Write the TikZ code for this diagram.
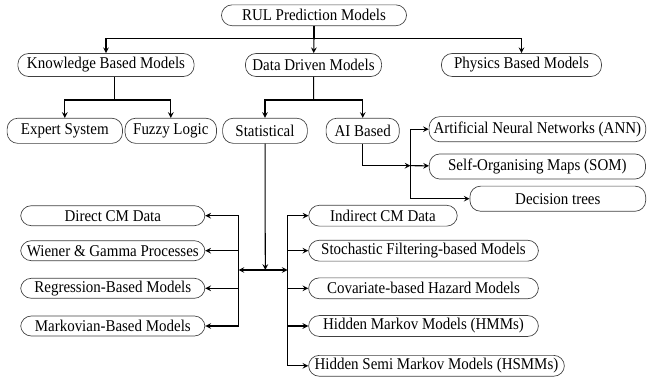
\documentclass[tikz,border=0pt]{standalone}
\usepackage{fontspec}
\setmainfont{Liberation Serif}[FakeStretch=0.91]
\usetikzlibrary{arrows.meta, positioning}
\tikzset{
    model/.style={
        rectangle, rounded corners=0.25cm, minimum height=0.54cm, inner xsep=1pt, inner ysep=1pt, text centered, draw=black!75, line width=0.45pt, font=\fontsize{11}{13}\selectfont
    },
    arrow/.style={
        line width=0.7pt, ->, >=stealth
    },
    link/.style={
        line width=0.7pt
    }
}

\begin{document}
\begin{tikzpicture}[x=0.0235cm, y=-0.0235cm, >=stealth]

    \useasboundingbox (0,0) rectangle (647,378);

    % Root
    \node[model, minimum width=4.35cm, minimum height=0.49cm] (rul) at (314,15.3) {RUL Prediction Models};

    % Main families
    \node[model, minimum width=4.14cm] (knowledge) at (106,65) {Knowledge Based Models};
    \node[model, minimum width=3.2cm] (datadriven) at (313.5,65) {Data Driven Models};
    \node[model, minimum width=3.76cm] (physics) at (521.5,65) {Physics Based Models};

    % Sub families
    \node[model, minimum width=2.71cm, minimum height=0.59cm] (expert) at (64.8,130.8) {Expert System};
    \node[model, minimum width=2.15cm, minimum height=0.59cm] (fuzzy) at (170.8,130.8) {Fuzzy Logic};
    \node[model, minimum width=1.99cm, minimum height=0.59cm] (statistical) at (265,130.8) {Statistical};
    \node[model, minimum width=1.72cm, minimum height=0.59cm] (aibased) at (362.7,130.8) {AI Based};

    % AI based methods
    \node[model, minimum width=5.09cm, minimum height=0.59cm] (ann) at (537.4,129.2) {Artificial Neural Networks (ANN)};
    \node[model, minimum width=5.08cm, minimum height=0.59cm] (som) at (537.4,166.5) {Self-Organising Maps (SOM)};
    \node[model, minimum width=4.13cm, minimum height=0.59cm] (trees) at (557.8,198.7) {Decision trees};

    % Statistical methods (left)
    \node[model, minimum width=4.33cm, minimum height=0.47cm] (direct) at (112.8,215.7) {Direct CM Data};
    \node[model, minimum width=4.33cm, minimum height=0.47cm] (wiener) at (112.8,250.7) {Wiener \& Gamma Processes};
    \node[model, minimum width=4.33cm, minimum height=0.47cm] (regression) at (112.8,288.3) {Regression-Based Models};
    \node[model, minimum width=4.33cm, minimum height=0.47cm] (markovian) at (112.8,326) {Markovian-Based Models};

    % Statistical methods (right)
    \node[model, minimum width=3.49cm, minimum height=0.49cm] (indirect) at (383,215.7) {Indirect CM Data};
    \node[model, minimum width=5.4cm, minimum height=0.49cm] (stochastic) at (423.5,250.7) {Stochastic Filtering-based Models};
    \node[model, minimum width=5.4cm, minimum height=0.49cm] (covariate) at (423.5,288.3) {Covariate-based Hazard Models};
    \node[model, minimum width=5.4cm, minimum height=0.49cm] (hmm) at (423.5,326) {Hidden Markov Models (HMMs)};
    \node[model, minimum width=6.01cm, minimum height=0.49cm] (hsmm) at (436.5,365.8) {Hidden Semi Markov Models (HSMMs)};

    % Junctions
    \coordinate (splitroot) at (314,38.3);
    \coordinate (splitknow) at (114.3,100);
    \coordinate (splitdata) at (313.6,100);
    \coordinate (splitai) at (410.5,165.7);
    \coordinate (splitstat) at (265.3,270);
    \coordinate (busleft) at (238.5,270);
    \coordinate (busright) at (287.6,270);

    % Relationships
    \draw[link] (rul) -- (splitroot);
    \draw[arrow] (splitroot) -| (knowledge);
    \draw[arrow] (splitroot) -- (datadriven);
    \draw[arrow] (splitroot) -| (physics);

    \draw[link] (knowledge.south -| splitknow) -- (splitknow);
    \draw[arrow] (splitknow) -| (expert);
    \draw[arrow] (splitknow) -| (fuzzy);

    \draw[link] (datadriven) -- (splitdata);
    \draw[arrow] (splitdata) -| (statistical);
    \draw[arrow] (splitdata) -| (aibased);

    \draw[arrow] (aibased) |- (splitai);
    \draw[arrow] (splitai) |- (ann);
    \draw[arrow] (splitai) -- (som);
    \draw[arrow] (splitai) |- (trees);

    \draw[arrow] (statistical) -- (splitstat);
    \draw[arrow, <->] (busleft) -- (busright);
    \foreach \n in {direct, wiener, regression, markovian}
        \draw[arrow] (busleft) |- (\n);
    \foreach \n in {indirect, stochastic, covariate, hmm, hsmm}
        \draw[arrow] (busright) |- (\n);

\end{tikzpicture}
\end{document}
